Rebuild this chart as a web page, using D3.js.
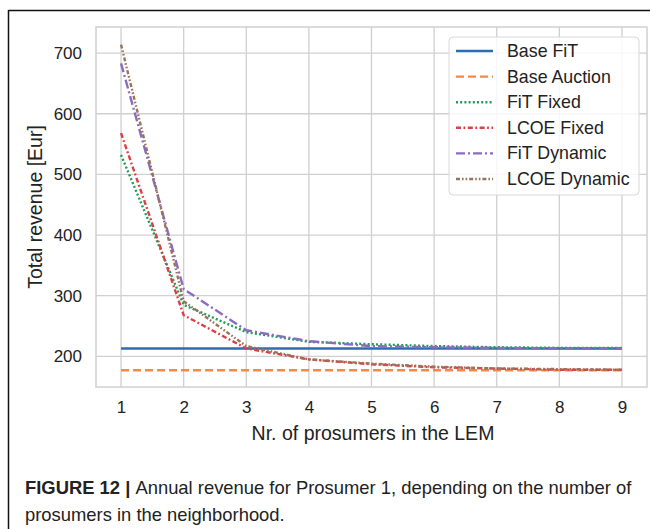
<!DOCTYPE html>
<html>
<head>
<meta charset="utf-8">
<script src="https://cdn.jsdelivr.net/npm/d3@7"></script>
<style>
  html, body { margin: 0; padding: 0; background: #fff; }
  svg { display: block; font-family: "Liberation Sans", Arial, sans-serif; }
</style>
</head>
<body>
<svg id="chart" width="650" height="529"></svg>
<script>
// Number of prosumers in the local energy market
const prosumers = [1, 2, 3, 4, 5, 6, 7, 8, 9];
const yTicks = [200, 300, 400, 500, 600, 700];

// Annual revenue of prosumer 1 [Eur] per scenario
const baseFiT      = [213, 213, 213, 213, 213, 213, 213, 213, 213];
const baseAuction  = [177, 177, 177, 177, 177, 177, 177, 177, 177];
const fitFixed     = [532, 285, 240, 224, 220, 217, 215, 214, 214];
const lcoeFixed    = [568, 268, 213, 195, 187, 182, 180, 178, 178];
const fitDynamic   = [683, 311, 243, 225, 217, 215, 214, 213, 213];
const lcoeDynamic  = [714, 291, 217, 195, 188, 183, 180, 179, 178];

const seriesNames = ["Base FiT", "Base Auction", "FiT Fixed", "LCOE Fixed", "FiT Dynamic", "LCOE Dynamic"];
const seriesValues = [baseFiT, baseAuction, fitFixed, lcoeFixed, fitDynamic, lcoeDynamic];
const seriesColors = ["#2b6cb5", "#f28a4c", "#1a9f55", "#dc3f45", "#8a6cc0", "#9a7358"];
const seriesDashes = [null, "8,4", "2,2.2", "5,2.5,1.8,2.5", "9,3,2,3", "4,2,1.6,2,1.6,2"];

const svg = d3.select("#chart");

// outer figure frame (top and left rules)
svg.append("line").attr("x1", 8.5).attr("x2", 650).attr("y1", 10.5).attr("y2", 10.5)
  .attr("stroke", "#111").attr("stroke-width", 1.5);
svg.append("line").attr("x1", 8.5).attr("x2", 8.5).attr("y1", 10).attr("y2", 529)
  .attr("stroke", "#111").attr("stroke-width", 1.5);

const plot = { left: 96, right: 647, top: 27, bottom: 387 };

const x = d3.scaleLinear()
  .domain([0.6, 9.4])
  .range([plot.left, plot.right]);
const y = d3.scaleLinear()
  .domain([149.5, 743])
  .range([plot.bottom, plot.top]);

const g = svg.append("g");

// grid
const gridColor = "#d0d0d0";
g.append("g").selectAll("line").data(prosumers).join("line")
  .attr("x1", d => x(d)).attr("x2", d => x(d))
  .attr("y1", plot.top).attr("y2", plot.bottom)
  .attr("stroke", gridColor).attr("stroke-width", 1.3);
g.append("g").selectAll("line").data(yTicks).join("line")
  .attr("x1", plot.left).attr("x2", plot.right)
  .attr("y1", d => y(d)).attr("y2", d => y(d))
  .attr("stroke", gridColor).attr("stroke-width", 1.3);

// plot frame
g.append("rect")
  .attr("x", plot.left).attr("y", plot.top)
  .attr("width", plot.right - plot.left).attr("height", plot.bottom - plot.top)
  .attr("fill", "none").attr("stroke", gridColor).attr("stroke-width", 1.5);

// axes (labels only, seaborn whitegrid style)
const xAxis = d3.axisBottom(x).tickValues(prosumers).tickSize(0).tickPadding(14).tickFormat(d3.format("d"));
const xg = g.append("g").attr("transform", `translate(0,${plot.bottom})`).call(xAxis);
xg.select(".domain").remove();
xg.selectAll("text").attr("font-size", 17).attr("fill", "#222")
  .attr("font-family", "Liberation Sans, Arial, sans-serif");

const yAxis = d3.axisLeft(y).tickValues(yTicks).tickSize(0).tickPadding(14).tickFormat(d3.format("d"));
const yg = g.append("g").attr("transform", `translate(${plot.left},0)`).call(yAxis);
yg.select(".domain").remove();
yg.selectAll("text").attr("font-size", 17).attr("fill", "#222")
  .attr("font-family", "Liberation Sans, Arial, sans-serif");

// axis titles
svg.append("text")
  .attr("x", 373).attr("y", 440)
  .attr("text-anchor", "middle").attr("font-size", 19.5).attr("fill", "#222")
  .text("Nr. of prosumers in the LEM");
svg.append("text")
  .attr("transform", `translate(42,${(plot.top + plot.bottom) / 2}) rotate(-90)`)
  .attr("text-anchor", "middle").attr("font-size", 19.5).attr("fill", "#222")
  .text("Total revenue [Eur]");

// series lines
const line = d3.line()
  .x((d, i) => x(prosumers[i]))
  .y(d => y(d));

const lines = g.append("g");
seriesValues.forEach((vals, k) => {
  lines.append("path")
    .datum(vals)
    .attr("d", line)
    .attr("fill", "none")
    .attr("stroke", seriesColors[k])
    .attr("stroke-width", 2.4)
    .attr("stroke-dasharray", seriesDashes[k]);
});

// legend
const lg = svg.append("g").attr("transform", "translate(449,37)");
lg.append("rect")
  .attr("x", 0).attr("y", 0).attr("width", 190).attr("height", 158)
  .attr("rx", 4)
  .attr("fill", "#fff").attr("fill-opacity", 0.82)
  .attr("stroke", "#d8d8d8").attr("stroke-width", 1);
seriesNames.forEach((name, k) => {
  const yy = 14 + k * 25.6;
  lg.append("line")
    .attr("x1", 7).attr("x2", 44).attr("y1", yy).attr("y2", yy)
    .attr("stroke", seriesColors[k]).attr("stroke-width", 2.4)
    .attr("stroke-dasharray", seriesDashes[k]);
  lg.append("text")
    .attr("x", 58).attr("y", yy + 6)
    .attr("font-size", 17.8).attr("fill", "#222")
    .text(name);
});

// caption
const cap = svg.append("text").attr("x", 25).attr("y", 494)
  .attr("font-size", 18.4).attr("fill", "#222");
cap.append("tspan").attr("font-weight", "bold").text("FIGURE 12 | ");
cap.append("tspan").text("Annual revenue for Prosumer 1, depending on the number of");
svg.append("text").attr("x", 25).attr("y", 521)
  .attr("font-size", 18.4).attr("fill", "#222")
  .text("prosumers in the neighborhood.");
</script>
</body>
</html>
